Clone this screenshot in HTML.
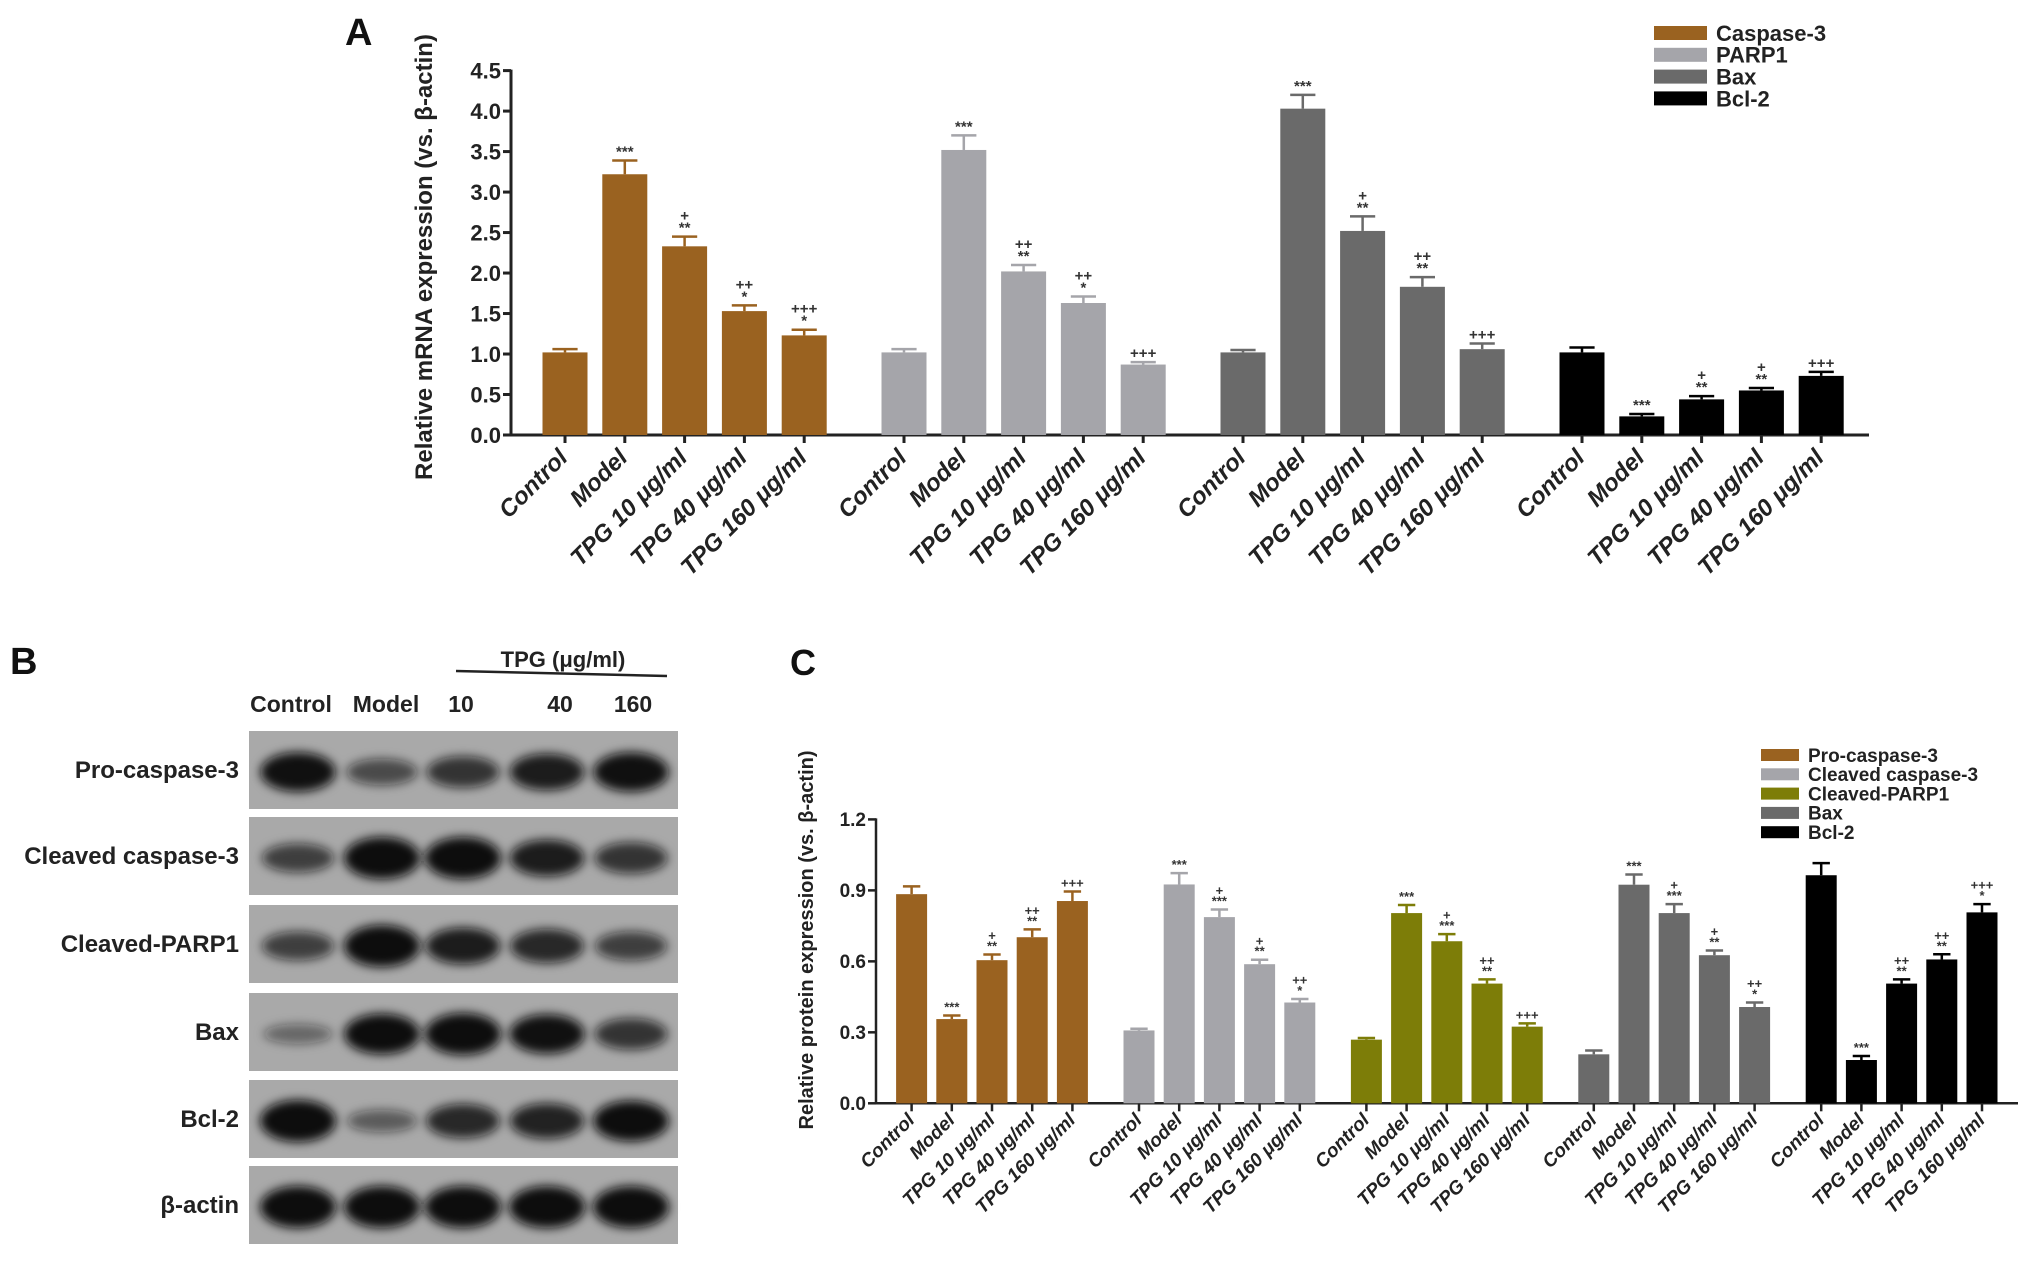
<!DOCTYPE html>
<html><head><meta charset="utf-8">
<style>
html,body{margin:0;padding:0;background:#fff;}
svg{display:block;}
text{font-family:"Liberation Sans",Arial,sans-serif;}
</style></head>
<body>
<svg id="fig" width="2031" height="1266" viewBox="0 0 2031 1266" xmlns="http://www.w3.org/2000/svg">
<defs>
<filter id="blur" x="-30%" y="-60%" width="160%" height="220%"><feGaussianBlur stdDeviation="5"/></filter>
</defs>
<g id="panelA"></g>
<g id="panelB"></g>
<g id="panelC"></g>
</svg>
<script>
// ---------- Panel A data ----------
const groupsA = ["Caspase-3","PARP1","Bax","Bcl-2"];
const categories = ["Control","Model","TPG 10 μg/ml","TPG 40 μg/ml","TPG 160 μg/ml"];
const caspase3A = [1.02,3.22,2.33,1.53,1.23];
const caspase3AErr = [1.06,3.39,2.45,1.60,1.30];
const parp1A = [1.02,3.52,2.02,1.63,0.87];
const parp1AErr = [1.06,3.70,2.10,1.71,0.90];
const baxA = [1.02,4.03,2.52,1.83,1.06];
const baxAErr = [1.05,4.20,2.70,1.95,1.13];
const bcl2A = [1.02,0.23,0.44,0.55,0.73];
const bcl2AErr = [1.08,0.26,0.48,0.58,0.78];
const annA = [["","***","+|**","++|*","+++|*"],["","***","++|**","++|*","+++"],["","***","+|**","++|**","+++"],["","***","+|**","+|**","+++"]];
const ticksA = ["0.0","0.5","1.0","1.5","2.0","2.5","3.0","3.5","4.0","4.5"];
const colorsA = ["#9a6220","#a5a5aa","#6a6a6a","#000000"];

// ---------- Panel C data ----------
const groupsC = ["Pro-caspase-3","Cleaved caspase-3","Cleaved-PARP1","Bax","Bcl-2"];
const proCasp3C = [0.884,0.356,0.605,0.702,0.855];
const proCasp3CErr = [0.917,0.371,0.629,0.735,0.895];
const clCasp3C = [0.308,0.925,0.787,0.588,0.426];
const clCasp3CErr = [0.315,0.973,0.819,0.607,0.441];
const clParpC = [0.269,0.804,0.685,0.506,0.324];
const clParpCErr = [0.276,0.838,0.715,0.524,0.338];
const baxC = [0.207,0.924,0.804,0.626,0.407];
const baxCErr = [0.223,0.967,0.842,0.646,0.426];
const bcl2C = [0.964,0.183,0.506,0.608,0.807];
const bcl2CErr = [1.015,0.200,0.524,0.630,0.842];
const annC = [["","***","+|**","++|**","+++"],["","***","+|***","+|**","++|*"],["","***","+|***","++|**","+++"],["","***","+|***","+|**","++|*"],["","***","++|**","++|**","+++|*"]];
const ticksC = ["0.0","0.3","0.6","0.9","1.2"];
const colorsC = ["#9a6220","#a5a5aa","#7d7d08","#6a6a6a","#000000"];

const NS="http://www.w3.org/2000/svg";
function mk(tag,attrs,parent,txt){const e=document.createElementNS(NS,tag);for(const k in attrs)e.setAttribute(k,attrs[k]);if(txt!==undefined)e.textContent=txt;parent.appendChild(e);return e;}

function drawChart(g,cfg){
  const y=v=>cfg.y0-(v/cfg.vmax)*(cfg.y0-cfg.yTop);
  const ya=mk('line',{x1:cfg.ax,y1:cfg.yTop-1,x2:cfg.ax,y2:cfg.y0+1,stroke:'#222','stroke-width':cfg.axw},g);
  
  
  const xa=mk('line',{x1:cfg.ax,y1:cfg.y0,x2:cfg.axEnd,y2:cfg.y0,stroke:'#222','stroke-width':cfg.axw},g);
  
  
  cfg.ticks.forEach(t=>{
    const yy=y(parseFloat(t));
    mk('line',{x1:cfg.ax-8,y1:yy,x2:cfg.ax,y2:yy,stroke:'#222','stroke-width':cfg.axw},g);
    const tl=mk('text',{x:cfg.ax-10,y:yy+cfg.tickFs*0.36,'text-anchor':'end','font-size':cfg.tickFs,'font-weight':'bold',fill:'#222'},g,t);
    
    
  });
  const yt=mk('text',{transform:`translate(${cfg.titleX},${cfg.titleY}) rotate(-90)`,'text-anchor':'middle','font-size':cfg.titleFs,'font-weight':'bold',fill:'#222'},g,cfg.title);
  
  
  cfg.series.forEach((vals,gi)=>{
    const errs=cfg.errs[gi];
    vals.forEach((v,i)=>{
      const cx=cfg.x0+gi*cfg.gs+i*cfg.bs;
      const top=y(v), et=y(errs[i]);
      const r=mk('rect',{x:cx-cfg.bw/2,y:top,width:cfg.bw,height:cfg.y0-top,fill:cfg.colors[gi]},g);
      
      
      mk('line',{x1:cx,y1:top,x2:cx,y2:et,stroke:cfg.colors[gi],'stroke-width':2.5},g);
      mk('line',{x1:cx-cfg.bw*0.28,y1:et,x2:cx+cfg.bw*0.28,y2:et,stroke:cfg.colors[gi],'stroke-width':2.5},g);
      mk('line',{x1:cx,y1:cfg.y0,x2:cx,y2:cfg.y0+8,stroke:'#222','stroke-width':cfg.axw},g);
      const a=cfg.ann[gi][i];
      if(a){const parts=a.split('|');parts.reverse().forEach((p,k)=>{
        const t=mk('text',{x:cx,y:et-4-k*cfg.annFs*0.8,'text-anchor':'middle','font-size':cfg.annFs,'font-weight':'bold',fill:'#333'},g,p);
        
        
      });}
      const lx=cx+4, ly=cfg.y0+cfg.labOff;
      const xl=mk('text',{transform:`translate(${lx},${ly}) rotate(-45)`,'text-anchor':'end','font-size':cfg.labFs,'font-weight':'bold','font-style':'italic',fill:'#222'},g,cfg.cats[i]);
      
      
    });
  });
  cfg.names.forEach((n,i)=>{
    const ly=cfg.legY+i*cfg.legGap;
    const sw=mk('rect',{x:cfg.legX,y:ly-cfg.legH/2,width:cfg.legW,height:cfg.legH,fill:cfg.colors[i]},g);
    
    
    const lt=mk('text',{x:cfg.legX+cfg.legW+9,y:ly+cfg.legFs*0.36,'font-size':cfg.legFs,'font-weight':'bold',fill:'#222'},g,n);
    
    
  });
}

const gA=document.getElementById('panelA');
const la=mk('text',{x:345,y:45,'font-size':38,'font-weight':'bold',fill:'#111'},gA,'A');


drawChart(gA,{ax:511,axEnd:1869,y0:435,yTop:70.6,vmax:4.5,axw:3,ticks:ticksA,tickFs:22,
 title:'Relative mRNA expression (vs. β-actin)',titleX:432,titleY:257,titleFs:24,
 series:[caspase3A,parp1A,baxA,bcl2A],errs:[caspase3AErr,parp1AErr,baxAErr,bcl2AErr],
 colors:colorsA,names:groupsA,ann:annA,cats:categories,
 x0:565,gs:339,bs:59.8,bw:45,annFs:15,labOff:24,labFs:24,
 legX:1654,legY:33,legGap:21.8,legW:53,legH:14,legFs:22});

const gC=document.getElementById('panelC');
const lc=mk('text',{x:790,y:675,'font-size':36,'font-weight':'bold',fill:'#111'},gC,'C');


drawChart(gC,{ax:876,axEnd:2018,y0:1103.3,yTop:819.4,vmax:1.2,axw:2.5,ticks:ticksC,tickFs:19,
 title:'Relative protein expression (vs. β-actin)',titleX:813,titleY:940,titleFs:20,
 series:[proCasp3C,clCasp3C,clParpC,baxC,bcl2C],errs:[proCasp3CErr,clCasp3CErr,clParpCErr,baxCErr,bcl2CErr],
 colors:colorsC,names:groupsC,ann:annC,cats:categories,
 x0:911.6,gs:227.4,bs:40.2,bw:31,annFs:13,labOff:18,labFs:19,
 legX:1761,legY:755,legGap:19.3,legW:38,legH:12,legFs:19});

// ---------- Panel B western blot ----------
const blotRows = ["Pro-caspase-3","Cleaved caspase-3","Cleaved-PARP1","Bax","Bcl-2","β-actin"];
const blotIntensity = [[0.9,0.4,0.6,0.8,0.9],[0.5,1,1,0.8,0.6],[0.5,1,0.8,0.7,0.5],[0.15,0.95,1,0.9,0.6],[1,0.25,0.7,0.75,0.95],[1,1,1,1,1]];
const gB=document.getElementById('panelB');
const lb=mk('text',{x:10,y:674,'font-size':38,'font-weight':'bold',fill:'#111'},gB,'B');


const tpg=mk('text',{x:563,y:667,'text-anchor':'middle','font-size':22,'font-weight':'bold',fill:'#222'},gB,'TPG (μg/ml)');


mk('line',{x1:456,y1:671,x2:667,y2:676,stroke:'#222','stroke-width':2.5},gB);
const laneLabels=["Control","Model","10","40","160"];
const laneLabelX=[291,386,461,560,633];
const laneX=[298,382,463,547,631];
laneLabels.forEach((t,i)=>{
  const e=mk('text',{x:laneLabelX[i],y:712,'text-anchor':'middle','font-size':23,'font-weight':'bold',fill:'#222'},gB,t);
  
  
});
const rowTop=[731,817,905,993,1080,1166];
blotRows.forEach((n,r)=>{
  const y0=rowTop[r],h=78;
  const p=mk('rect',{x:249,y:y0,width:429,height:h,fill:'#a9a9a9'},gB);
  
  
  const bg=mk('g',{filter:'url(#blur)'},gB);
  blotIntensity[r].forEach((v,i)=>{
    const ry=8+v*13;
    mk('ellipse',{cx:laneX[i],cy:y0+h/2+2,rx:34+v*4,ry:ry,fill:'#111','fill-opacity':Math.min(1,0.35+v*0.7)},bg);
  });
  const t=mk('text',{x:239,y:y0+h/2+8,'text-anchor':'end','font-size':24,'font-weight':'bold',fill:'#222'},gB,n);
  
  
});
</script>
</body></html>
